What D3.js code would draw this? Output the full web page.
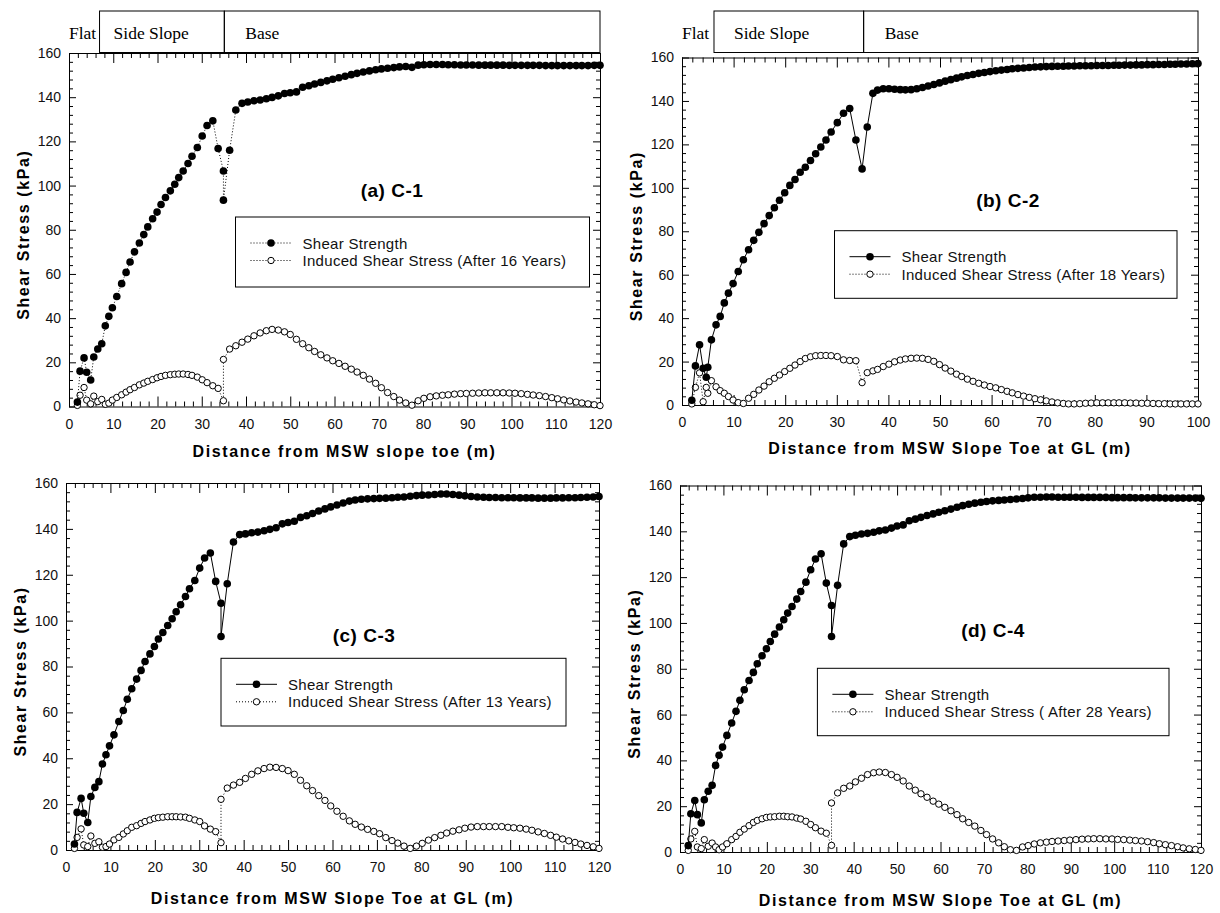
<!DOCTYPE html>
<html lang="en">
<head>
<meta charset="UTF-8">
<title>Shear Strength vs Induced Shear Stress</title>
<script src="https://d3js.org/d3.v7.min.js"></script>
<style>
  body { margin: 0; background: #fff; }
  #chart svg { display: block; }
</style>
</head>
<body>
<div id="chart"></div>
<script>
// distance from slope toe (m), cases C-1, C-3, C-4
const xGrid120 = [1.9, 2.5, 3.4, 4.0, 4.9, 5.6, 6.5, 7.4, 8.2, 9.0,
  9.8, 10.8, 11.9, 12.9, 13.8, 14.8, 15.9, 16.9, 17.8, 18.9,
  19.9, 20.8, 21.8, 22.9, 23.9, 24.8, 25.8, 26.9, 27.8, 29.0,
  30.1, 31.2, 32.5, 33.7, 34.9, 34.9, 36.3,
  37.7, 39.1, 40.4, 41.8, 43.2, 44.6, 45.9, 47.3, 48.7, 50.0,
  51.4, 52.8, 54.2, 55.5, 56.9, 58.3, 59.6, 61.0, 62.4, 63.8,
  65.1, 66.5, 67.9, 69.3, 70.6, 72.0, 73.4, 74.7, 76.1, 77.5,
  78.9, 80.2, 81.6, 83.0, 84.4, 85.7, 87.1, 88.5, 89.8, 91.2,
  92.6, 94.0, 95.3, 96.7, 98.1, 99.5, 100.8, 102.2, 103.6, 104.9,
  106.3, 107.7, 109.1, 110.4, 111.8, 113.2, 114.6, 115.9, 117.3, 118.7,
  120.0];

// distance from slope toe (m), case C-2
const xGrid100 = [1.9, 2.6, 3.4, 4.1, 4.7, 5.0, 5.7, 6.6, 7.4, 8.2,
  9.0, 9.9, 10.9, 11.9, 12.9, 13.9, 14.9, 15.9, 16.9, 17.9,
  18.9, 19.9, 20.9, 21.9, 22.9, 23.9, 24.9, 25.9, 26.9, 27.9,
  28.9, 30.1, 31.3, 32.5, 33.7, 34.9, 35.9, 37.0,
  37.9, 39.0, 40.1, 41.2, 42.3, 43.3, 44.4, 45.5, 46.6, 47.7,
  48.8, 49.9, 51.0, 52.1, 53.2, 54.2, 55.3, 56.4, 57.5, 58.6,
  59.7, 60.8, 61.9, 63.0, 64.0, 65.1, 66.2, 67.3, 68.4, 69.5,
  70.6, 71.7, 72.8, 73.9, 74.9, 76.0, 77.1, 78.2, 79.3, 80.4,
  81.5, 82.6, 83.7, 84.7, 85.8, 86.9, 88.0, 89.1, 90.2, 91.3,
  92.4, 93.5, 94.6, 95.6, 96.7, 97.8, 98.9, 100.0];

// shear strength / induced shear stress (kPa)
const strengthC1 = [2.0, 16.0, 22.0, 15.5, 12.0, 22.4, 26.0, 28.4, 36.5, 40.8,
  44.7, 49.8, 55.6, 60.7, 65.4, 70.0, 74.0, 77.8, 81.3, 85.0,
  88.0, 91.4, 94.6, 97.6, 100.6, 103.6, 106.6, 110.0, 113.3, 117.2,
  122.4, 127.2, 129.3, 116.8, 106.6, 93.4, 116.0,
  134.2, 137.2, 137.8, 138.4, 138.7, 139.3, 139.9, 140.6, 141.7, 142.0,
  142.4, 144.5, 145.2, 146.0, 146.7, 147.4, 148.1, 148.8, 149.5, 150.2,
  150.8, 151.4, 151.9, 152.4, 152.8, 153.1, 153.4, 153.7, 153.9, 153.5,
  154.5, 154.7, 154.8, 154.8, 154.8, 154.7, 154.7, 154.6, 154.6, 154.6,
  154.5, 154.5, 154.5, 154.5, 154.5, 154.4, 154.4, 154.4, 154.4, 154.4,
  154.4, 154.3, 154.3, 154.3, 154.3, 154.3, 154.3, 154.3, 154.3, 154.4, 154.4];
const inducedC1 = [0.5, 5.1, 8.6, 2.9, 1.2, 4.7, 2.2, 3.2, 1.0, 1.5,
  2.9, 4.1, 5.3, 6.5, 7.6, 8.6, 9.8, 10.6, 11.4, 12.2,
  13.0, 13.6, 14.1, 14.4, 14.6, 14.7, 14.7, 14.5, 14.1, 13.3,
  12.1, 10.8, 9.4, 8.2, 2.6, 21.3, 26.0,
  27.5, 29.1, 30.5, 32.0, 33.3, 34.3, 34.9, 34.6, 33.8, 32.6,
  30.4, 28.4, 26.6, 24.9, 23.4, 22.0, 20.7, 19.5, 18.2, 16.9,
  15.6, 14.1, 12.4, 10.5, 8.5, 6.3, 4.5, 2.9, 1.6, 0.6,
  2.6, 3.7, 4.4, 4.8, 5.1, 5.3, 5.6, 5.8, 5.9, 6.0,
  6.1, 6.2, 6.2, 6.2, 6.2, 6.1, 6.0, 5.8, 5.5, 5.2,
  4.9, 4.5, 4.0, 3.5, 3.0, 2.5, 2.0, 1.6, 1.2, 0.8, 0.4];

const strengthC2 = [2.2, 18.0, 27.7, 16.9, 12.8, 17.4, 30.0, 36.9, 40.8, 47.0,
  51.5, 55.9, 61.5, 66.9, 71.5, 75.8, 79.5, 83.5, 87.2, 90.8,
  94.3, 97.7, 101.1, 103.8, 107.2, 109.5, 112.6, 115.7, 118.8, 122.0,
  125.7, 130.0, 134.3, 136.5, 122.0, 108.7, 128.0, 143.5,
  145.0, 145.6, 145.6, 145.4, 145.2, 145.1, 145.2, 145.6, 146.2, 146.9,
  147.6, 148.3, 149.1, 149.8, 150.5, 151.1, 151.7, 152.2, 152.7, 153.1,
  153.5, 153.9, 154.2, 154.5, 154.8, 155.0, 155.2, 155.4, 155.6, 155.7,
  155.8, 155.9, 156.0, 156.0, 156.1, 156.1, 156.2, 156.2, 156.2, 156.3,
  156.3, 156.3, 156.4, 156.4, 156.5, 156.5, 156.6, 156.6, 156.7, 156.7,
  156.8, 156.8, 156.9, 156.9, 157.0, 157.0, 157.1, 157.2];
const inducedC2 = [0.5, 8.1, 14.8, 1.5, 8.1, 5.4, 11.2, 8.4, 6.6, 5.4,
  3.9, 2.3, 1.1, 0.7, 3.1, 4.9, 6.9, 8.7, 10.7, 12.3,
  13.8, 15.4, 16.9, 18.4, 20.0, 21.4, 22.2, 22.7, 22.8, 22.8,
  22.7, 22.3, 20.8, 20.5, 20.4, 10.3, 14.9, 15.7,
  16.4, 17.7, 18.8, 19.9, 20.7, 21.2, 21.5, 21.6, 21.5, 21.0,
  20.1, 18.6, 17.0, 15.6, 14.2, 13.1, 11.9, 10.9, 10.0, 9.2,
  8.5, 7.9, 7.1, 6.3, 5.6, 4.8, 4.1, 3.5, 2.9, 2.4,
  1.9, 1.4, 1.0, 0.7, 0.5, 0.5, 0.6, 0.8, 0.9, 1.0,
  1.0, 1.0, 1.0, 1.0, 1.0, 0.9, 0.9, 0.8, 0.8, 0.7,
  0.6, 0.6, 0.5, 0.5, 0.5, 0.5, 0.5, 0.5];

const strengthC3 = [2.6, 16.4, 22.5, 16.0, 12.0, 23.3, 27.3, 29.8, 37.5, 41.5,
  45.4, 50.2, 56.0, 60.8, 65.7, 70.3, 74.5, 78.3, 82.2, 85.5,
  88.7, 92.0, 94.8, 97.9, 100.8, 103.9, 106.9, 110.5, 113.9, 117.5,
  122.9, 127.3, 129.5, 117.1, 107.6, 93.1, 116.1,
  134.3, 137.5, 137.8, 138.3, 138.6, 139.2, 139.8, 140.5, 142.2, 142.8,
  143.3, 145.0, 145.7, 146.7, 147.8, 148.7, 149.6, 150.4, 151.3, 152.1,
  152.6, 152.9, 153.1, 153.2, 153.3, 153.4, 153.6, 153.8, 153.9, 154.2,
  154.5, 154.7, 154.8, 155.0, 155.2, 155.2, 155.0, 154.7, 154.4, 154.1,
  153.9, 153.8, 153.7, 153.7, 153.6, 153.6, 153.6, 153.5, 153.5, 153.5,
  153.4, 153.4, 153.4, 153.5, 153.5, 153.6, 153.6, 153.7, 153.8, 153.9, 154.1];
const inducedC3 = [0.7, 5.5, 9.2, 2.2, 1.5, 6.1, 2.9, 3.6, 1.2, 1.5,
  2.6, 4.4, 5.5, 7.0, 8.4, 9.9, 10.6, 11.6, 12.4, 13.1,
  13.8, 14.1, 14.3, 14.5, 14.5, 14.5, 14.4, 14.3, 13.8, 13.1,
  12.4, 10.5, 9.1, 8.0, 3.2, 22.1, 27.0,
  28.3, 29.5, 31.2, 33.0, 34.5, 35.5, 36.1, 36.0, 35.5, 34.6,
  33.0, 30.4, 28.0, 25.9, 23.7, 21.6, 19.2, 16.9, 14.7, 12.7,
  11.2, 10.0, 9.0, 8.1, 7.1, 5.4, 4.1, 3.0, 1.7, 0.7,
  1.7, 2.9, 4.3, 5.4, 6.4, 7.4, 8.2, 8.8, 9.5, 10.0,
  10.2, 10.2, 10.2, 10.2, 10.2, 9.9, 9.7, 9.5, 9.1, 8.6,
  7.9, 7.2, 6.4, 5.6, 4.8, 4.0, 3.3, 2.6, 2.0, 1.4, 0.7];

const strengthC4 = [2.8, 16.7, 22.5, 16.3, 12.7, 22.8, 26.5, 29.1, 37.8, 42.2,
  45.8, 50.9, 56.3, 61.4, 66.2, 70.8, 74.9, 78.4, 82.2, 85.7,
  88.7, 91.9, 95.1, 98.2, 101.4, 104.3, 107.2, 110.4, 113.7, 117.8,
  123.2, 127.9, 130.2, 117.4, 107.6, 94.1, 116.4,
  134.5, 137.7, 138.3, 138.8, 139.1, 139.6, 140.2, 140.6, 141.4, 142.3,
  142.8, 144.6, 145.3, 146.1, 146.9, 147.6, 148.3, 149.0, 149.7, 150.5,
  151.2, 151.8, 152.3, 152.7, 153.0, 153.3, 153.5, 153.7, 153.9, 154.1,
  154.3, 154.6, 154.9, 154.9, 155.0, 155.0, 154.9, 154.9, 154.9, 154.9,
  154.8, 154.8, 154.8, 154.8, 154.8, 154.7, 154.7, 154.7, 154.7, 154.6,
  154.6, 154.6, 154.6, 154.6, 154.5, 154.5, 154.5, 154.5, 154.5, 154.5, 154.4];
const inducedC4 = [0.7, 5.7, 9.0, 2.2, 1.5, 5.4, 2.5, 3.9, 2.2, 1.0,
  2.2, 3.6, 5.4, 6.8, 8.6, 10.0, 11.5, 12.9, 13.8, 14.5,
  15.1, 15.3, 15.4, 15.6, 15.6, 15.4, 15.3, 14.8, 14.4, 13.4,
  12.0, 10.6, 9.1, 8.2, 2.9, 21.4, 25.8,
  27.8, 28.8, 30.6, 32.2, 33.8, 34.6, 34.9, 34.7, 33.8, 32.6,
  31.0, 28.8, 27.0, 25.4, 23.9, 22.2, 20.9, 19.5, 18.0, 16.3,
  14.5, 12.9, 11.3, 9.4, 7.6, 5.7, 4.0, 2.3, 1.0, 0.7,
  2.2, 2.8, 3.5, 4.0, 4.3, 4.6, 4.8, 5.0, 5.2, 5.4,
  5.6, 5.7, 5.8, 5.8, 5.7, 5.7, 5.5, 5.4, 5.2, 5.0,
  4.8, 4.5, 4.1, 3.6, 3.2, 2.8, 2.3, 1.8, 1.4, 1.1, 0.7];

// tick labels
const xTicks120 = [0, 10, 20, 30, 40, 50, 60, 70, 80, 90, 100, 110, 120];
const xTicks100 = [0, 10, 20, 30, 40, 50, 60, 70, 80, 90, 100];
const yTicks = [0, 20, 40, 60, 80, 100, 120, 140, 160];

const SANS = '"Liberation Sans", Arial, Helvetica, sans-serif';
const SERIF = '"Liberation Serif", "Times New Roman", Times, serif';

const panels = [
  { title: "(a) C-1", xs: xGrid120, strength: strengthC1, induced: inducedC1,
    xTicks: xTicks120, left: 69, right: 600, top: 53, bottom: 406.5,
    strengthDotted: true, years: "Induced Shear Stress (After 16 Years)",
    xTitle: "Distance from MSW slope toe (m)", xTitleDx: 10, xTitleY: 451,
    titleX: 392, titleY: 190,
    legend: { x: 235.5, y: 217, w: 354, h: 70 },
    header: { top: 11, bottom: 52.5, slopeFrom: 6.9, slopeTo: 35.1, slopeDx: 14 } },
  { title: "(b) C-2", xs: xGrid100, strength: strengthC2, induced: inducedC2,
    xTicks: xTicks100, left: 682, right: 1198, top: 57.5, bottom: 405,
    strengthDotted: false, years: "Induced Shear Stress (After 18 Years)",
    xTitle: "Distance from MSW Slope Toe at GL (m)", xTitleDx: 10, xTitleY: 448,
    titleX: 1008, titleY: 200,
    legend: { x: 834.5, y: 230.7, w: 342.5, h: 67.6 },
    header: { top: 11, bottom: 52.5, slopeFrom: 6.2, slopeTo: 35.2, slopeDx: 20 } },
  { title: "(c) C-3", xs: xGrid120, strength: strengthC3, induced: inducedC3,
    xTicks: xTicks120, left: 66, right: 599, top: 483, bottom: 850,
    strengthDotted: false, years: "Induced Shear Stress (After 13 Years)",
    xTitle: "Distance from MSW Slope Toe at GL (m)", xTitleDx: 0, xTitleY: 898,
    titleX: 364, titleY: 635,
    legend: { x: 221, y: 658.3, w: 345, h: 67.7 } },
  { title: "(d) C-4", xs: xGrid120, strength: strengthC4, induced: inducedC4,
    xTicks: xTicks120, left: 680, right: 1201, top: 485.5, bottom: 852,
    strengthDotted: false, years: "Induced Shear Stress ( After 28 Years)",
    xTitle: "Distance from MSW Slope Toe at GL (m)", xTitleDx: 0, xTitleY: 900,
    titleX: 993, titleY: 630,
    legend: { x: 817.4, y: 668.3, w: 351.6, h: 67.4 } }
];

const svg = d3.select("#chart").append("svg")
  .attr("width", 1220)
  .attr("height", 913)
  .style("background", "#fff");

const DOTS = "1,2";
const R_FILLED = 3.8, R_OPEN = 3.2;

function drawPanel(p) {
  const xMax = p.xTicks[p.xTicks.length - 1];
  const w = p.right - p.left, h = p.bottom - p.top;
  const x = d3.scaleLinear().domain([0, xMax]).range([0, w]);
  const y = d3.scaleLinear().domain([0, 160]).range([h, 0]);

  const g = svg.append("g").attr("transform", `translate(${p.left},${p.top})`);

  // minor tick positions
  const xMinor = d3.range(0, xMax + 0.1, 2).filter(v => v % 10 !== 0);
  const yMinor = d3.range(0, 160.1, 4).filter(v => v % 20 !== 0);

  const styleAxis = a => {
    a.select(".domain").remove();
    a.attr("font-family", SANS).attr("font-size", 14);
    a.selectAll(".tick line").attr("stroke", "#000");
    a.selectAll(".tick text").attr("fill", "#111");
  };

  // bottom
  g.append("g").attr("transform", `translate(0,${h})`)
    .call(d3.axisBottom(x).tickValues(p.xTicks).tickSize(-10).tickPadding(12.5).tickFormat(d3.format("d")))
    .call(styleAxis);
  g.append("g").attr("transform", `translate(0,${h})`)
    .call(d3.axisBottom(x).tickValues(xMinor).tickSize(-5).tickFormat(""))
    .call(styleAxis);
  // top
  g.append("g")
    .call(d3.axisTop(x).tickValues(p.xTicks).tickSize(-10).tickFormat(""))
    .call(styleAxis);
  g.append("g")
    .call(d3.axisTop(x).tickValues(xMinor).tickSize(-5).tickFormat(""))
    .call(styleAxis);
  // left
  g.append("g")
    .call(d3.axisLeft(y).tickValues(yTicks).tickSize(-7).tickPadding(8).tickFormat(d3.format("d")))
    .call(styleAxis);
  g.append("g")
    .call(d3.axisLeft(y).tickValues(yMinor).tickSize(-4).tickFormat(""))
    .call(styleAxis);
  // right
  g.append("g").attr("transform", `translate(${w},0)`)
    .call(d3.axisRight(y).tickValues(yTicks).tickSize(-7).tickFormat(""))
    .call(styleAxis);
  g.append("g").attr("transform", `translate(${w},0)`)
    .call(d3.axisRight(y).tickValues(yMinor).tickSize(-4).tickFormat(""))
    .call(styleAxis);

  g.append("rect")
    .attr("x", 0.5).attr("y", 0.5)
    .attr("width", w).attr("height", h)
    .attr("fill", "none").attr("stroke", "#000").attr("stroke-width", 1);

  // series
  const line = d3.line().x(d => x(d[0])).y(d => y(d[1]));
  const ind = p.xs.map((v, i) => [v, p.induced[i]]);
  const str = p.xs.map((v, i) => [v, p.strength[i]]);

  g.append("path").datum(ind)
    .attr("d", line).attr("fill", "none")
    .attr("stroke", "#000").attr("stroke-width", 1)
    .attr("stroke-dasharray", DOTS);
  g.append("g").selectAll("circle").data(ind).join("circle")
    .attr("cx", d => x(d[0])).attr("cy", d => y(d[1]))
    .attr("r", R_OPEN).attr("fill", "#fff")
    .attr("stroke", "#000").attr("stroke-width", 1);

  g.append("path").datum(str)
    .attr("d", line).attr("fill", "none")
    .attr("stroke", "#000").attr("stroke-width", 1)
    .attr("stroke-dasharray", p.strengthDotted ? DOTS : null);
  g.append("g").selectAll("circle").data(str).join("circle")
    .attr("cx", d => x(d[0])).attr("cy", d => y(d[1]))
    .attr("r", R_FILLED).attr("fill", "#000");

  // panel title
  svg.append("text")
    .attr("x", p.titleX).attr("y", p.titleY)
    .attr("text-anchor", "middle").attr("dominant-baseline", "central")
    .attr("font-family", SANS).attr("font-size", 19).attr("font-weight", "bold")
    .attr("letter-spacing", 0.5)
    .text(p.title);

  // axis titles
  svg.append("text")
    .attr("x", p.left + w / 2 + p.xTitleDx).attr("y", p.xTitleY)
    .attr("text-anchor", "middle").attr("dominant-baseline", "central")
    .attr("font-family", SANS).attr("font-size", 16).attr("font-weight", "bold")
    .attr("letter-spacing", 1.6)
    .text(p.xTitle);
  svg.append("text")
    .attr("transform", `translate(${p.left - 46},${p.top + h / 2 + 5}) rotate(-90)`)
    .attr("text-anchor", "middle").attr("dominant-baseline", "central")
    .attr("font-family", SANS).attr("font-size", 16).attr("font-weight", "bold")
    .attr("letter-spacing", 1.6)
    .text("Shear Stress (kPa)");

  // legend
  const L = p.legend;
  const lg = svg.append("g").attr("transform", `translate(${L.x},${L.y})`);
  lg.append("rect").attr("width", L.w).attr("height", L.h)
    .attr("fill", "#fff").attr("stroke", "#000").attr("stroke-width", 1);
  const rows = [
    { label: "Shear Strength", dy: 26, filled: true, dotted: p.strengthDotted },
    { label: p.years, dy: 43.5, filled: false, dotted: true }
  ];
  rows.forEach(r => {
    lg.append("line")
      .attr("x1", 15).attr("x2", 56).attr("y1", r.dy).attr("y2", r.dy)
      .attr("stroke", "#000").attr("stroke-width", 1)
      .attr("stroke-dasharray", r.dotted ? DOTS : null);
    lg.append("circle")
      .attr("cx", 35.5).attr("cy", r.dy)
      .attr("r", r.filled ? R_FILLED : R_OPEN)
      .attr("fill", r.filled ? "#000" : "#fff")
      .attr("stroke", "#000").attr("stroke-width", r.filled ? 0 : 1);
    lg.append("text")
      .attr("x", 67).attr("y", r.dy)
      .attr("dominant-baseline", "central")
      .attr("font-family", SANS).attr("font-size", 15)
      .attr("letter-spacing", 0.3)
      .attr("fill", "#111")
      .text(r.label);
  });

  // zone header (Flat / Side Slope / Base)
  if (p.header) {
    const H = p.header;
    const hx0 = p.left + x(H.slopeFrom), hx1 = p.left + x(H.slopeTo);
    const hg = svg.append("g").attr("font-family", SERIF).attr("font-size", 17.5);
    hg.append("rect").attr("x", hx0).attr("y", H.top)
      .attr("width", hx1 - hx0).attr("height", H.bottom - H.top)
      .attr("fill", "none").attr("stroke", "#000");
    hg.append("rect").attr("x", hx1).attr("y", H.top)
      .attr("width", p.right - hx1).attr("height", H.bottom - H.top)
      .attr("fill", "none").attr("stroke", "#000");
    hg.append("text").attr("x", p.left).attr("y", 38.5).text("Flat");
    hg.append("text").attr("x", hx0 + H.slopeDx).attr("y", 38.5).text("Side Slope");
    hg.append("text").attr("x", hx1 + 21).attr("y", 38.5).text("Base");
  }
}

panels.forEach(drawPanel);
</script>
</body>
</html>
